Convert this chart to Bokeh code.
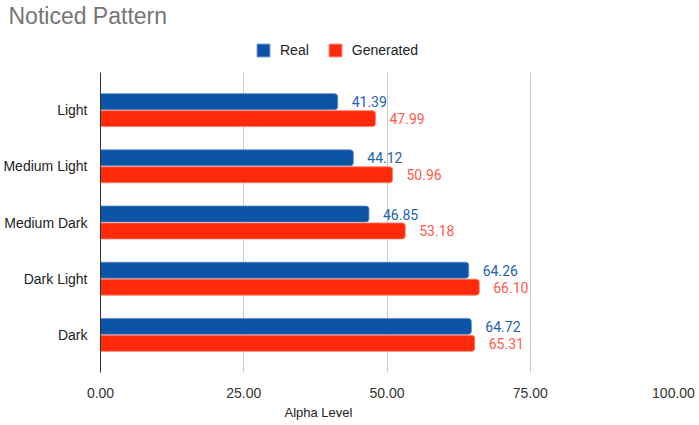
from bokeh.plotting import figure
from bokeh.layouts import column
from bokeh.models import (ColumnDataSource, Range1d, FixedTicker, Legend, LegendItem,
                          Title, NumeralTickFormatter)
from bokeh.embed import file_html
from bokeh.resources import INLINE
from bokeh.core.properties import value

categories = ["Light", "Medium Light", "Medium Dark", "Dark Light", "Dark"]
real = [41.39, 44.12, 46.85, 64.26, 64.72]
generated = [47.99, 50.96, 53.18, 66.10, 65.31]
x_ticks = [0, 25, 50, 75, 100]
series_names = ["Real", "Generated"]

REAL_C = "#0b53a5"
GEN_C = "#ff2a0a"
REAL_EDGE = "#5a8bc8"
GEN_EDGE = "#ff7a66"

W = 695
LEFT = 92

pos = list(range(len(categories)))
off = 0.151
src = ColumnDataSource(dict(
    y_real=[i - off for i in pos],
    y_gen=[i + off for i in pos],
    real=real,
    gen=generated,
    real_lbl=[f"{v:.2f}" for v in real],
    gen_lbl=[f"{v:.2f}" for v in generated],
))

# ---------- header: title + legend ----------
hdr = figure(width=W, height=72, x_range=Range1d(0, 1), y_range=Range1d(100, 101),
             x_axis_type=None, y_axis_type=None,
             output_backend="svg", toolbar_location=None,
             min_border_left=LEFT, min_border_right=0, min_border_top=0, min_border_bottom=0)
hdr.grid.visible = False
hdr.outline_line_color = None
hdr.title.text = "Noticed Pattern"
hdr.title.text_font = "Liberation Sans"
hdr.title.text_font_size = "23px"
hdr.title.text_font_style = "normal"
hdr.title.text_color = "#757575"
hdr.title.align = "left"
hdr.title.offset = -LEFT
hdr.title.standoff = 0

# legend glyph renderers (their data lies outside the header's visible range)
d_real = hdr.hbar(y="y_real", left=0, right="real", height=0.3, source=src,
                  fill_color=REAL_C, line_color=REAL_EDGE)
d_gen = hdr.hbar(y="y_gen", left=0, right="gen", height=0.3, source=src,
                 fill_color=GEN_C, line_color=GEN_EDGE)
legend = Legend(items=[LegendItem(label=series_names[0], renderers=[d_real], index=0),
                       LegendItem(label=series_names[1], renderers=[d_gen], index=0)],
                orientation="horizontal", location=(155, 14),
                glyph_width=16, glyph_height=16, label_standoff=9, spacing=18,
                padding=0, margin=0, border_line_color=None,
                background_fill_alpha=0,
                label_text_font="Liberation Sans", label_text_font_size="14px",
                label_text_color="#222222", label_height=14)
hdr.add_layout(legend, "center")

# ---------- main chart ----------
p = figure(width=W, height=352, title=None,
           x_range=Range1d(0, 100), y_range=Range1d(4.67, -0.67),
           output_backend="svg", toolbar_location=None,
           min_border_left=LEFT, min_border_right=W - 673,
           min_border_top=0, min_border_bottom=52)

bh = 0.284
p.hbar(y="y_real", left=0, right="real", height=bh, source=src,
       fill_color=REAL_C, line_color=REAL_EDGE, line_width=0.8,
       border_radius=(0, 3, 3, 0))
p.hbar(y="y_gen", left=0, right="gen", height=bh, source=src,
       fill_color=GEN_C, line_color=GEN_EDGE, line_width=0.8,
       border_radius=(0, 3, 3, 0))

p.text(x="real", y="y_real", text="real_lbl", source=src, x_offset=14,
       text_baseline="middle", text_align="left", text_font=value("Roboto"),
       text_font_size="14px", text_color="#1f63ad")
p.text(x="gen", y="y_gen", text="gen_lbl", source=src, x_offset=14,
       text_baseline="middle", text_align="left", text_font=value("Roboto"),
       text_font_size="14px", text_color="#ff5a4c")

p.yaxis.ticker = FixedTicker(ticks=pos)
p.yaxis.major_label_overrides = {i: c for i, c in zip(pos, categories)}
p.yaxis.major_tick_line_color = None
p.yaxis.minor_tick_line_color = None
p.yaxis.axis_line_color = "#333333"
p.yaxis.major_label_text_font = "Liberation Sans"
p.yaxis.major_label_text_font_size = "14px"
p.yaxis.major_label_text_color = "#222222"
p.yaxis.major_label_standoff = 7

p.xaxis.ticker = FixedTicker(ticks=x_ticks)
p.xaxis.formatter = NumeralTickFormatter(format="0.00")
p.xaxis.axis_line_color = None
p.xaxis.major_tick_line_color = None
p.xaxis.minor_tick_line_color = None
p.xaxis.major_label_text_font = "Liberation Sans"
p.xaxis.major_label_text_font_size = "14px"
p.xaxis.major_label_text_color = "#333333"
p.xaxis.major_label_standoff = 9

p.ygrid.visible = False
p.xgrid.ticker = FixedTicker(ticks=x_ticks)
p.xgrid.grid_line_color = "#cccccc"
p.outline_line_color = None

xt = Title(text="Alpha Level", align="left", offset=276 - LEFT, standoff=4,
           text_font="Liberation Sans", text_font_size="13px",
           text_font_style="normal", text_color="#222222")
p.add_layout(xt, "below")

layout = column(hdr, p, spacing=0)
open("out.html", "w").write(file_html(layout, INLINE))
